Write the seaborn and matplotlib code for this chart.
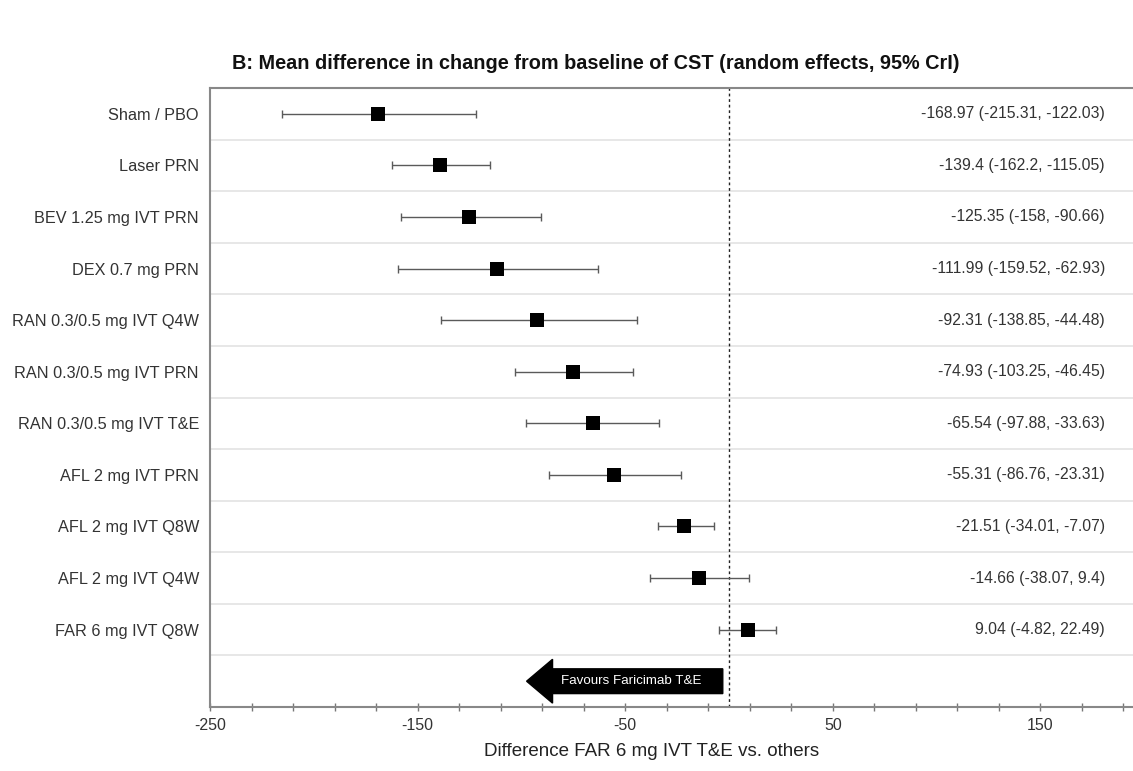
import numpy as np
import pandas as pd
import matplotlib
matplotlib.use("Agg")
import matplotlib.pyplot as plt
import seaborn as sns

# Datos
treatments = [
    "Sham / PBO", "Laser PRN", "BEV 1.25 mg IVT PRN", "DEX 0.7 mg PRN",
    "RAN 0.3/0.5 mg IVT Q4W", "RAN 0.3/0.5 mg IVT PRN", "RAN 0.3/0.5 mg IVT T&E",
    "AFL 2 mg IVT PRN", "AFL 2 mg IVT Q8W", "AFL 2 mg IVT Q4W", "FAR 6 mg IVT Q8W",
]
mean_diff = [-168.97, -139.4, -125.35, -111.99, -92.31, -74.93, -65.54, -55.31, -21.51, -14.66, 9.04]
ci_low = [-215.31, -162.2, -158, -159.52, -138.85, -103.25, -97.88, -86.76, -34.01, -38.07, -4.82]
ci_high = [-122.03, -115.05, -90.66, -62.93, -44.48, -46.45, -33.63, -23.31, -7.07, 9.4, 22.49]
ci_text = [
    "-168.97 (-215.31, -122.03)", "-139.4 (-162.2, -115.05)", "-125.35 (-158, -90.66)",
    "-111.99 (-159.52, -62.93)", "-92.31 (-138.85, -44.48)", "-74.93 (-103.25, -46.45)",
    "-65.54 (-97.88, -33.63)", "-55.31 (-86.76, -23.31)", "-21.51 (-34.01, -7.07)",
    "-14.66 (-38.07, 9.4)", "9.04 (-4.82, 22.49)",
]
tick_values = [-250, -150, -50, 50, 150]

df = pd.DataFrame({"trat": treatments, "md": mean_diff, "lo": ci_low, "hi": ci_high})
df["row"] = np.arange(len(df))

sns.set_style("white")
plt.rcParams["font.family"] = ["Liberation Sans", "DejaVu Sans"]

fig = plt.figure(figsize=(11.33, 7.71), dpi=100)
ax = fig.add_axes([210 / 1133, 64 / 771, 923 / 1133, 619 / 771])

n_rows = len(df) + 1
# Separadores de filas
for b in np.arange(0.5, n_rows - 0.5, 1):
    ax.axhline(b, color="#e3e3e3", lw=1.2, zorder=0)

# Intervalos de credibilidad
ax.errorbar(df["md"], df["row"],
            xerr=[df["md"] - df["lo"], df["hi"] - df["md"]],
            fmt="none", ecolor="#5a5a5a", elinewidth=1, capsize=3, capthick=1, zorder=2)
sns.scatterplot(data=df, x="md", y="row", marker="s", s=110, color="black",
                edgecolor="black", linewidth=0, ax=ax, zorder=3, legend=False)

ax.axvline(0, color="#222222", ls=(0, (2, 2)), lw=1, zorder=1)

# Flecha "Favours Faricimab T&E"
y_arrow = n_rows - 1
ax.arrow(-3, y_arrow, -94.5, 0, width=0.48, head_width=0.85, head_length=12.5,
         length_includes_head=True, color="black", zorder=3)
ax.text(-47, y_arrow, "Favours Faricimab T&E", color="white", fontsize=9.6,
        ha="center", va="center", zorder=4)

# Texto de los valores a la derecha
for _, r in df.iterrows():
    ax.text(181, r["row"], ci_text[int(r["row"])], ha="right", va="center",
            fontsize=11.3, color="#333333")

ax.set_xlim(-250, 194.6)
ax.set_ylim(n_rows - 0.5, -0.5)
ax.set_yticks(df["row"])
ax.set_yticklabels(treatments, fontsize=11.7, color="#333333")
ax.tick_params(axis="y", length=0, pad=8)
ax.set_ylabel("")

ax.set_xticks(np.arange(-250, 195, 20), minor=True)
ax.set_xticks(tick_values)
ax.set_xticklabels([str(v) for v in tick_values], fontsize=11.5, color="#333333")
ax.tick_params(axis="x", which="both", bottom=True, direction="inout", length=6, width=1,
               color="#777777", pad=5)

for side in ["left", "bottom", "top"]:
    ax.spines[side].set_color("#888888")
    ax.spines[side].set_linewidth(1.5)
ax.spines["right"].set_visible(False)

ax.set_xlabel("Difference FAR 6 mg IVT T&E vs. others", fontsize=13.5, color="#222222")
ax.xaxis.set_label_coords(0.478, -0.058)
fig.text(0.526, 0.918, "B: Mean difference in change from baseline of CST (random effects, 95% CrI)",
         ha="center", va="center", fontsize=14.3, fontweight="bold", color="#111111")

fig.savefig("out.png", dpi=100, facecolor="white")
